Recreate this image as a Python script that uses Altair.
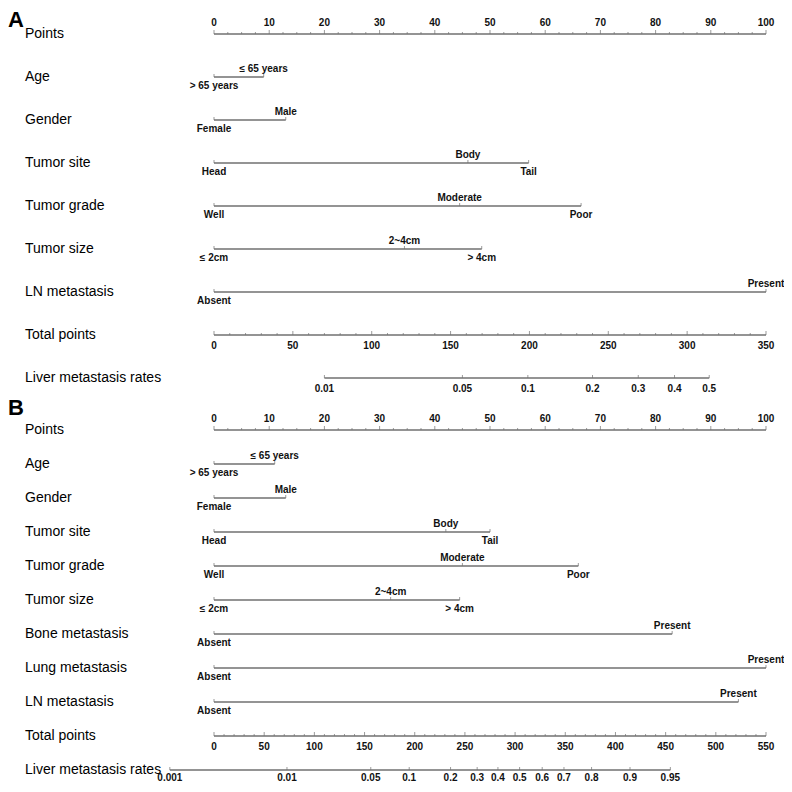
import altair as alt
import pandas as pd
import numpy as np

# ---------------- data ----------------
# Panel A
A_rows = ["Points", "Age", "Gender", "Tumor site", "Tumor grade", "Tumor size",
          "LN metastasis", "Total points", "Liver metastasis rates"]
A_age_levels = ["> 65 years", "≤ 65 years"]
A_age_pts = [0, 9]
A_gender_levels = ["Female", "Male"]
A_gender_pts = [0, 13]
A_site_levels = ["Head", "Body", "Tail"]
A_site_pts = [0, 46, 57]
A_grade_levels = ["Well", "Moderate", "Poor"]
A_grade_pts = [0, 44.5, 66.5]
A_size_levels = ["≤ 2cm", "2~4cm", "> 4cm"]
A_size_pts = [0, 34.5, 48.5]
A_ln_levels = ["Absent", "Present"]
A_ln_pts = [0, 100]
A_total_max = 350
A_liver_labels = ["0.01", "0.05", "0.1", "0.2", "0.3", "0.4", "0.5"]
A_liver_total = [70, 157.5, 199, 240, 269, 292, 314]

# Panel B
B_rows = ["Points", "Age", "Gender", "Tumor site", "Tumor grade", "Tumor size",
          "Bone metastasis", "Lung metastasis", "LN metastasis", "Total points",
          "Liver metastasis rates"]
B_age_levels = ["> 65 years", "≤ 65 years"]
B_age_pts = [0, 11]
B_gender_levels = ["Female", "Male"]
B_gender_pts = [0, 13]
B_site_levels = ["Head", "Body", "Tail"]
B_site_pts = [0, 42, 50]
B_grade_levels = ["Well", "Moderate", "Poor"]
B_grade_pts = [0, 45, 66]
B_size_levels = ["≤ 2cm", "2~4cm", "> 4cm"]
B_size_pts = [0, 32, 44.5]
B_bone_levels = ["Absent", "Present"]
B_bone_pts = [0, 83]
B_lung_levels = ["Absent", "Present"]
B_lung_pts = [0, 100]
B_ln_levels = ["Absent", "Present"]
B_ln_pts = [0, 95]
B_total_max = 550
B_liver_labels = ["0.001", "0.01", "0.05", "0.1", "0.2", "0.3", "0.4", "0.5",
                  "0.6", "0.7", "0.8", "0.9", "0.95"]
B_liver_total = [-44, 72.7, 156.2, 194.5, 235.7, 262.2, 282.9, 304.5,
                 327, 348.7, 376.2, 414.5, 454.7]

# ---------------- styling ----------------
FONT = "Liberation Sans"
LINE = "#707070"
XS = alt.Scale(domain=[0, 100], range=[206, 758], nice=False, zero=False)


def build_panel(rows, cats, total_max, liver_labels, liver_total, y_range, liver_dy):
    seg, ticks, labs = [], [], []
    # Points axis
    seg.append(dict(row=rows[0], x0=0, x1=100))
    for v in np.arange(0, 100.01, 2.5):
        ticks.append(dict(row=rows[0], x=float(v), kind="major" if v % 10 == 0 else "minor"))
    for v in range(0, 101, 10):
        labs.append(dict(row=rows[0], x=v, text=str(v), pos="axisabove"))
    # categorical variables
    for name, levels, pts in cats:
        seg.append(dict(row=name, x0=min(pts), x1=max(pts)))
        for i, (lv, p) in enumerate(zip(levels, pts)):
            ticks.append(dict(row=name, x=p, kind="level"))
            labs.append(dict(row=name, x=p, text=lv, pos="above" if i % 2 else "below"))
    # Total points
    trow = rows[-2]
    sc = 100.0 / total_max
    seg.append(dict(row=trow, x0=0, x1=100))
    for tp in range(0, total_max + 1, 10):
        ticks.append(dict(row=trow, x=tp * sc, kind="major" if tp % 50 == 0 else "minor"))
    for tp in range(0, total_max + 1, 50):
        labs.append(dict(row=trow, x=tp * sc, text=str(tp), pos="axisbelow"))
    # Liver metastasis rates
    lrow = rows[-1]
    seg.append(dict(row=lrow, x0=liver_total[0] * sc, x1=liver_total[-1] * sc))
    for lab, tp in zip(liver_labels, liver_total):
        ticks.append(dict(row=lrow, x=tp * sc, kind="level"))
        labs.append(dict(row=lrow, x=tp * sc, text=lab, pos="liverbelow"))

    seg_df = pd.DataFrame(seg)
    tick_df = pd.DataFrame(ticks)
    lab_df = pd.DataFrame(labs)
    name_df = pd.DataFrame({"row": rows})

    Y = alt.Y("row:N", sort=rows, axis=None,
              scale=alt.Scale(type="point", range=y_range, padding=0))

    lines = alt.Chart(seg_df).mark_rule(color=LINE, strokeWidth=1.3).encode(
        x=alt.X("x0:Q", scale=XS, axis=None), x2="x1:Q", y=Y)

    def tick_layer(kind, size):
        return alt.Chart(tick_df).transform_filter(
            alt.datum.kind == kind
        ).mark_tick(color=LINE, thickness=1, size=size, yOffset=-size / 2).encode(
            x=alt.X("x:Q", scale=XS, axis=None), y=Y)

    def text_layer(pos, baseline, dy, size=10):
        return alt.Chart(lab_df).transform_filter(
            alt.datum.pos == pos
        ).mark_text(font=FONT, fontSize=size, fontWeight="bold", color="#111",
                    baseline=baseline, dy=dy, align="center").encode(
            x=alt.X("x:Q", scale=XS, axis=None), y=Y, text="text:N")

    names = alt.Chart(name_df).mark_text(
        font=FONT, fontSize=14, color="#000", align="left", baseline="middle", dy=0
    ).encode(x=alt.value(17), y=Y, text="row:N")

    return alt.layer(
        lines,
        tick_layer("major", 4),
        tick_layer("minor", 2),
        tick_layer("level", 3),
        text_layer("axisabove", "alphabetic", -8),
        text_layer("above", "alphabetic", -5),
        text_layer("below", "top", 4),
        text_layer("axisbelow", "top", 6),
        text_layer("liverbelow", "top", liver_dy),
        names,
    )


panelA = build_panel(
    A_rows,
    [("Age", A_age_levels, A_age_pts), ("Gender", A_gender_levels, A_gender_pts),
     ("Tumor site", A_site_levels, A_site_pts), ("Tumor grade", A_grade_levels, A_grade_pts),
     ("Tumor size", A_size_levels, A_size_pts), ("LN metastasis", A_ln_levels, A_ln_pts)],
    A_total_max, A_liver_labels, A_liver_total, [26, 370], 6)

panelB = build_panel(
    B_rows,
    [("Age", B_age_levels, B_age_pts), ("Gender", B_gender_levels, B_gender_pts),
     ("Tumor site", B_site_levels, B_site_pts), ("Tumor grade", B_grade_levels, B_grade_pts),
     ("Tumor size", B_size_levels, B_size_pts), ("Bone metastasis", B_bone_levels, B_bone_pts),
     ("Lung metastasis", B_lung_levels, B_lung_pts), ("LN metastasis", B_ln_levels, B_ln_pts)],
    B_total_max, B_liver_labels, B_liver_total, [422, 762], 3)

letters = alt.Chart(pd.DataFrame({"t": ["A", "B"], "yy": [2, 390]})).mark_text(
    font=FONT, fontSize=22, fontWeight="bold", color="#000", align="left", baseline="top"
).encode(x=alt.value(0), y=alt.Y("yy:Q", scale=alt.Scale(domain=[0, 776], range=[0, 776]), axis=None),
         text="t:N")

chart = alt.layer(panelA, panelB, letters).resolve_scale(y="independent").properties(
    width=776, height=776, padding=0, autosize="none"
).configure_view(stroke=None)

chart.save("out.html", embed_options={"renderer": "svg", "actions": False})
